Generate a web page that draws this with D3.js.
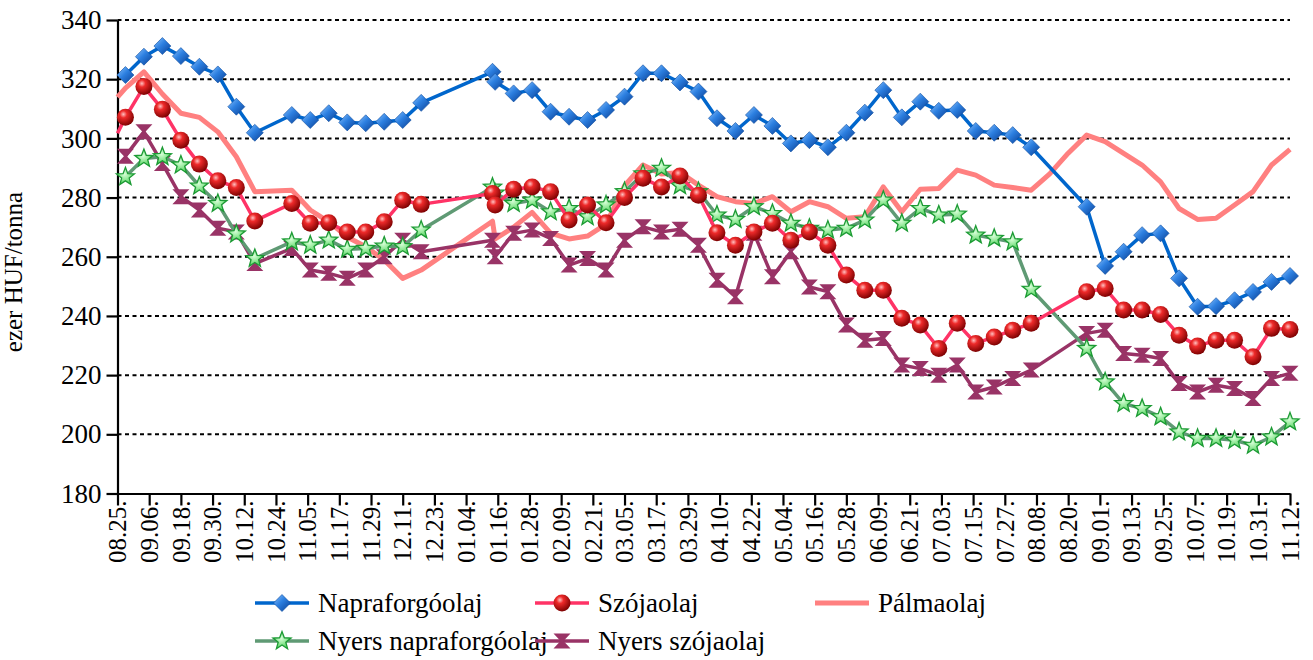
<!DOCTYPE html>
<head>
    <meta charset="utf-8">
    <script src="https://d3js.org/d3.v7.min.js"></script>
    <style>
      body { margin: 0; background: #fff; }
    </style>
</head>

<body>
<div id="chart"></div>

<script>
  // weekly quotation dates (10.23. and the holiday weeks have no data)
  var dates = [
    "2008-08-25", "2008-08-28", "2008-09-04", "2008-09-11", "2008-09-18", "2008-09-25",
    "2008-10-02", "2008-10-09", "2008-10-16", "2008-10-30", "2008-11-06", "2008-11-13",
    "2008-11-20", "2008-11-27", "2008-12-04", "2008-12-11", "2008-12-18",
    "2009-01-14", "2009-01-15", "2009-01-22", "2009-01-29", "2009-02-05", "2009-02-12",
    "2009-02-19", "2009-02-26", "2009-03-05", "2009-03-12", "2009-03-19", "2009-03-26",
    "2009-04-02", "2009-04-09", "2009-04-16", "2009-04-23", "2009-04-30", "2009-05-07",
    "2009-05-14", "2009-05-21", "2009-05-28", "2009-06-04", "2009-06-11", "2009-06-18",
    "2009-06-25", "2009-07-02", "2009-07-09", "2009-07-16", "2009-07-23", "2009-07-30",
    "2009-08-06", "2009-08-13", "2009-08-20", "2009-08-27", "2009-09-03", "2009-09-10",
    "2009-09-17", "2009-09-24", "2009-10-01", "2009-10-08", "2009-10-15", "2009-10-22",
    "2009-10-29", "2009-11-05", "2009-11-12"
  ];

  var napraforgoolaj = [
    null, 321.4, 327.6, 331.2, 327.8, 324.2, 321.6, 310.7, 301.9, 307.9, 306.2, 308.5,
    305.4, 305.1, 305.6, 306.2, 312.0,
    322.5, 319.1, 315.2, 316.3, 309.0, 307.3, 306.2, 309.6, 314.1, 322.0, 322.0, 318.9,
    315.8, 306.8, 302.5, 307.9, 304.2, 298.3, 299.4, 297.0, 301.9, 308.7, 316.3, 307.1,
    312.4, 309.3, 309.6, 302.5, 301.9, 301.1, 297.0, null, null, 276.9, 256.9, 261.7,
    267.3, 267.9, 252.7, 243.1, 243.3, 245.3, 248.1, 251.5, 253.5
  ];

  var szojaolaj = [
    301.7, 307.1, 317.5, 309.8, 299.4, 291.3, 285.7, 283.4, 272.1, 278.0, 271.3, 271.5,
    268.4, 268.4, 271.8, 279.1, 277.7,
    281.4, 277.5, 282.8, 283.6, 282.0, 272.4, 277.5, 271.5, 280.0, 286.5, 283.6, 287.3,
    280.8, 268.1, 263.9, 268.4, 271.3, 265.6, 268.4, 263.9, 253.8, 248.7, 248.7, 239.2,
    236.9, 229.0, 237.5, 230.7, 232.9, 235.2, 237.5, null, null, 248.2, 249.3, 242.0,
    242.0, 240.5, 233.5, 229.8, 231.8, 231.8, 226.2, 235.8, 235.4
  ];

  var palmaolaj = [
    313.9, 317.0, 322.5, 315.0, 308.5, 307.1, 302.2, 293.8, 282.0, 282.5, 275.8, 271.8,
    266.7, 263.4, 258.9, 252.7, 255.5,
    272.0, 266.0, 270.0, 275.0, 268.0, 266.0, 267.0, 271.0, 284.0, 291.0, 288.0, 288.5,
    284.2, 280.3, 278.6, 278.0, 280.3, 275.2, 278.6, 276.9, 273.0, 273.5, 283.6, 275.2,
    282.8, 283.1, 289.3, 287.6, 284.2, 283.4, 282.5, 288.0, 295.0, 301.1, 298.9, 294.9,
    291.0, 285.3, 276.3, 272.6, 273.0, 277.5, 282.0, 291.0, 296.3
  ];

  var nyersNapraforgoolaj = [
    null, 287.0, 293.2, 293.8, 291.0, 283.9, 278.0, 267.7, 259.4, 265.0, 263.9, 265.6,
    262.5, 262.8, 263.6, 263.4, 269.0,
    283.5, 281.5, 278.0, 279.1, 275.2, 276.3, 273.5, 277.5, 282.0, 288.0, 289.9, 284.0,
    282.0, 274.1, 272.6, 276.9, 274.6, 271.3, 269.6, 269.0, 269.6, 272.4, 279.1, 271.3,
    276.3, 274.1, 274.4, 267.3, 266.2, 265.0, 249.0, null, null, 229.0, 217.7, 210.4,
    208.7, 205.9, 200.8, 198.6, 198.6, 198.0, 196.3, 199.1, 204.2
  ];

  var nyersSzojaolaj = [
    null, 294.0, 302.2, 291.5, 280.3, 275.8, 269.6, 268.4, 257.7, 262.8, 255.5, 254.4,
    252.7, 255.5, 260.0, 265.6, 261.7,
    265.6, 260.0, 267.9, 269.0, 266.2, 257.2, 259.4, 255.5, 265.6, 270.1, 268.4, 269.3,
    263.9, 252.1, 246.5, 267.9, 253.2, 261.7, 249.8, 248.2, 236.9, 231.8, 232.4, 223.4,
    222.2, 220.0, 223.4, 214.3, 216.0, 218.9, 221.7, null, null, 234.1, 235.2, 227.3,
    226.7, 225.6, 217.2, 214.3, 216.6, 215.5, 212.1, 218.9, 220.6
  ];

  var tickDates = [
    "2008-08-25", "2008-09-06", "2008-09-18", "2008-09-30", "2008-10-12", "2008-10-24",
    "2008-11-05", "2008-11-17", "2008-11-29", "2008-12-11", "2008-12-23", "2009-01-04",
    "2009-01-16", "2009-01-28", "2009-02-09", "2009-02-21", "2009-03-05", "2009-03-17",
    "2009-03-29", "2009-04-10", "2009-04-22", "2009-05-04", "2009-05-16", "2009-05-28",
    "2009-06-09", "2009-06-21", "2009-07-03", "2009-07-15", "2009-07-27", "2009-08-08",
    "2009-08-20", "2009-09-01", "2009-09-13", "2009-09-25", "2009-10-07", "2009-10-19",
    "2009-10-31", "2009-11-12"
  ];
  var yTicks = [180, 200, 220, 240, 260, 280, 300, 320, 340];

  var width = 1313;
  var height = 660;
  var FONT = "'Liberation Serif', 'Times New Roman', 'DejaVu Serif', serif";
  var parse = d3.utcParse("%Y-%m-%d");
  var fmt = d3.utcFormat("%m.%d.");

  var svg = d3.select("#chart").append("svg")
      .attr("width", width)
      .attr("height", height)
      .style("font-family", FONT);

  var x = d3.scaleUtc()
      .domain([parse(tickDates[0]), parse(tickDates[tickDates.length - 1])])
      .range([117.5, 1290]);
  var y = d3.scaleLinear().domain([180, 340]).range([493.5, 20]);

  // gradients for the "3D" markers
  var defs = svg.append("defs");
  var gb = defs.append("linearGradient").attr("id", "gBlue")
      .attr("x1", "0").attr("y1", "0").attr("x2", "1").attr("y2", "1");
  gb.append("stop").attr("offset", "0%").attr("stop-color", "#8cc4ff");
  gb.append("stop").attr("offset", "45%").attr("stop-color", "#2c7fe0");
  gb.append("stop").attr("offset", "100%").attr("stop-color", "#0a3f94");
  var gr = defs.append("radialGradient").attr("id", "gRed")
      .attr("cx", "38%").attr("cy", "32%").attr("r", "70%");
  gr.append("stop").attr("offset", "0%").attr("stop-color", "#ffc0c0");
  gr.append("stop").attr("offset", "30%").attr("stop-color", "#ee2a2a");
  gr.append("stop").attr("offset", "100%").attr("stop-color", "#7a0000");
  var gg = defs.append("radialGradient").attr("id", "gGreen")
      .attr("cx", "45%").attr("cy", "40%").attr("r", "60%");
  gg.append("stop").attr("offset", "0%").attr("stop-color", "#d8ffd8");
  gg.append("stop").attr("offset", "100%").attr("stop-color", "#4fd35a");

  //Horizontal dotted gridlines
  svg.append("g").selectAll("line")
    .data(yTicks.slice(1))
    .enter().append("line")
      .attr("x1", x.range()[0]).attr("x2", x.range()[1])
      .attr("y1", function(d) { return y(d); })
      .attr("y2", function(d) { return y(d); })
      .attr("stroke", "#000")
      .attr("stroke-width", 2)
      .attr("stroke-dasharray", "4,3.5");

  //Axes
  var yAxis = svg.append("g")
      .attr("transform", "translate(" + x.range()[0] + ",0)")
      .call(d3.axisLeft(y).tickValues(yTicks).tickSize(11).tickSizeOuter(0).tickPadding(5));
  yAxis.attr("font-family", null);
  yAxis.selectAll("text").style("font-size", "27px").style("font-family", FONT);

  var xAxis = svg.append("g")
      .attr("transform", "translate(0," + y.range()[0] + ")")
      .call(d3.axisBottom(x).tickValues(tickDates.map(parse)).tickFormat(fmt)
        .tickSize(12).tickSizeOuter(0));
  xAxis.attr("font-family", null);
  xAxis.selectAll("text")
      .style("font-size", "25px")
      .style("font-family", FONT)
      .attr("transform", "rotate(-90)")
      .attr("text-anchor", "end")
      .attr("x", -7)
      .attr("y", 0)
      .attr("dy", "0.33em");

  svg.selectAll(".domain, .tick line")
      .attr("stroke", "#000")
      .attr("stroke-width", 2.2);

  svg.append("text")
      .attr("transform", "translate(22,272) rotate(-90)")
      .attr("text-anchor", "middle")
      .style("font-size", "25px")
      .style("font-family", FONT)
      .text("ezer HUF/tonna");

  //Marker shapes
  function starPath(R, r) {
    var p = [];
    for (var i = 0; i < 10; i++) {
      var a = -Math.PI / 2 + i * Math.PI / 5;
      var rr = i % 2 ? r : R;
      p.push([rr * Math.cos(a), rr * Math.sin(a)]);
    }
    return "M" + p.join("L") + "Z";
  }
  var markers = {
    diamond: function(g) {
      g.append("path").attr("d", "M0,-8.5L8.5,0L0,8.5L-8.5,0Z")
        .attr("fill", "url(#gBlue)").attr("stroke", "#0a4a9e").attr("stroke-width", 0.6);
    },
    sphere: function(g) {
      g.append("circle").attr("r", 8.5).attr("fill", "url(#gRed)");
    },
    star: function(g) {
      g.append("path").attr("d", starPath(9.5, 4))
        .attr("fill", "url(#gGreen)").attr("stroke", "#1c9a34").attr("stroke-width", 1.3);
    },
    hourglass: function(g) {
      g.append("path").attr("d", "M-8.5,-7.5H8.5L1.5,0L8.5,7.5H-8.5L-1.5,0Z")
        .attr("fill", "#993366");
    },
    none: function(g) {}
  };

  var series = [
    {name: "Pálmaolaj", values: palmaolaj, color: "#ff8080", width: 5, marker: "none"},
    {name: "Nyers szójaolaj", values: nyersSzojaolaj, color: "#993366", width: 3.5, marker: "hourglass"},
    {name: "Nyers napraforgóolaj", values: nyersNapraforgoolaj, color: "#5f9a74", width: 3.5, marker: "star"},
    {name: "Szójaolaj", values: szojaolaj, color: "#ff3366", width: 3.5, marker: "sphere"},
    {name: "Napraforgóolaj", values: napraforgoolaj, color: "#0066cc", width: 3.5, marker: "diamond"}
  ];

  var line = d3.line()
      .x(function(d) { return x(d.date); })
      .y(function(d) { return y(d.v); });

  series.forEach(function(s) {
    var pts = [];
    s.values.forEach(function(v, i) {
      if (v !== null) pts.push({date: parse(dates[i]), v: v, first: i === 0});
    });
    var g = svg.append("g");
    g.append("path")
      .datum(pts)
      .attr("d", line)
      .attr("fill", "none")
      .attr("stroke", s.color)
      .attr("stroke-width", s.width)
      .attr("stroke-linejoin", "round");
    g.selectAll("g.m")
      .data(pts.filter(function(d) { return !d.first; }))
      .enter().append("g")
      .attr("class", "m")
      .attr("transform", function(d) { return "translate(" + x(d.date) + "," + y(d.v) + ")"; })
      .each(function() { markers[s.marker](d3.select(this)); });
  });

  //Legend
  var legendOrder = ["Napraforgóolaj", "Szójaolaj", "Pálmaolaj", "Nyers napraforgóolaj", "Nyers szójaolaj"];
  var legendX = [255, 535, 815];
  var legendY = [603, 641];
  legendOrder.forEach(function(name, i) {
    var s = series.filter(function(d) { return d.name === name; })[0];
    var lx = legendX[i % 3], ly = legendY[Math.floor(i / 3)];
    var g = svg.append("g").attr("transform", "translate(" + lx + "," + ly + ")");
    g.append("line").attr("x1", 0).attr("x2", 54).attr("y1", 0).attr("y2", 0)
      .attr("stroke", s.color).attr("stroke-width", s.width);
    var m = g.append("g").attr("transform", "translate(27,0)");
    markers[s.marker](m);
    g.append("text").attr("x", 63).attr("y", 0).attr("dy", "0.33em")
      .style("font-size", "27px").style("font-family", FONT).text(name);
  });
</script>
</body>
</html>
